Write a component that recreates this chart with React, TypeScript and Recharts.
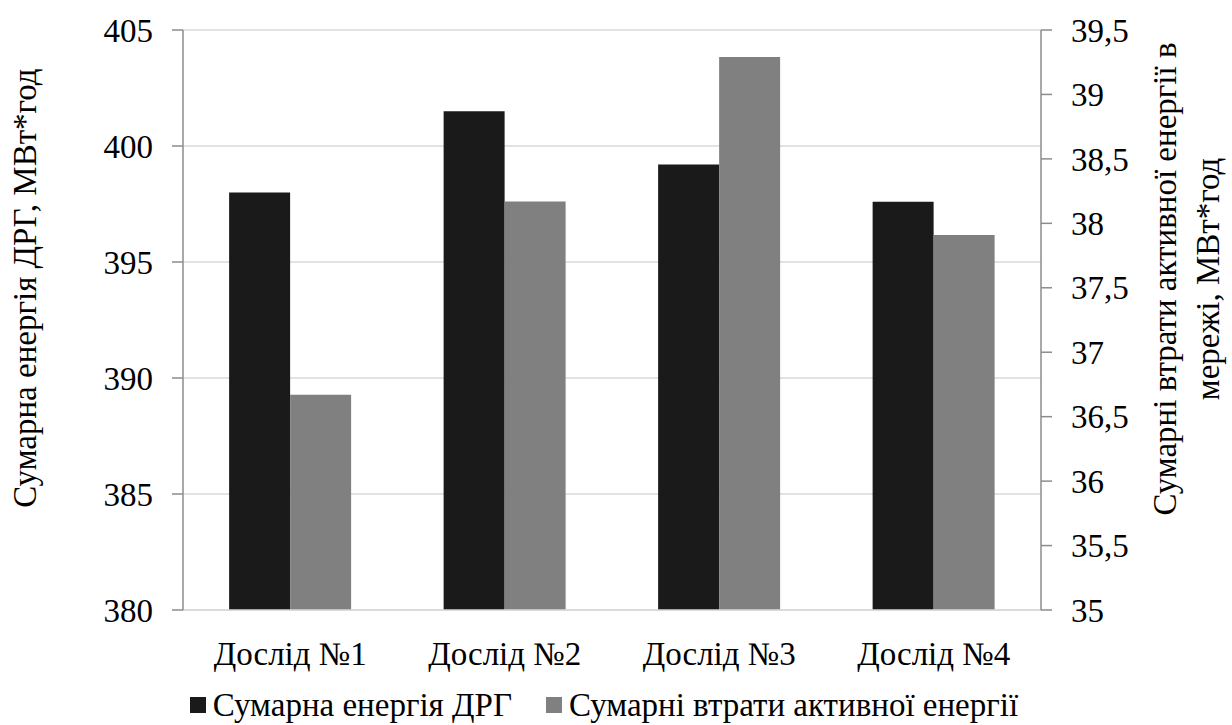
import React from 'react';
import { BarChart, Bar, XAxis, YAxis, CartesianGrid, Legend } from 'recharts';

const experiments = ['Дослід №1', 'Дослід №2', 'Дослід №3', 'Дослід №4'];
const drgEnergy = [398.0, 401.5, 399.2, 397.6];
const networkLosses = [36.67, 38.17, 39.29, 37.91];
const leftTicks = [380, 385, 390, 395, 400, 405];
const rightTicks = [35, 35.5, 36, 36.5, 37, 37.5, 38, 38.5, 39, 39.5];

const SERIES_DRG = 'Сумарна енергія ДРГ';
const SERIES_LOSS = 'Сумарні втрати активної енергії';

const FONT = 'Liberation Serif, Tinos, DejaVu Serif, serif';
const FS = 33;
const BLACK = '#1a1a1a';
const GRAY = '#808080';
const AXIS = '#8c8c8c';
const GRID = '#d9d9d9';

const data = experiments.map((name, i) => ({
    name,
    drg: drgEnergy[i],
    loss: networkLosses[i],
}));

const fmt = (v: number) => String(v).replace('.', ',');

const LeftTitle = ({ viewBox }: any) => {
    const cy = viewBox.y + viewBox.height / 2 - 32;
    return (
        <text x={36} y={cy} transform={`rotate(-90, 36, ${cy})`} textAnchor="middle"
            style={{ fontFamily: FONT }} fontSize={FS} fill="#000">
            Сумарна енергія ДРГ, МВт*год
        </text>
    );
};

const RightTitle = ({ viewBox }: any) => {
    const cy = viewBox.y + viewBox.height / 2 - 41;
    const x1 = viewBox.x + 135;
    const x2 = viewBox.x + 178;
    return (
        <g style={{ fontFamily: FONT }}>
            <text x={x1} y={cy} transform={`rotate(-90, ${x1}, ${cy})`} textAnchor="middle"
                fontSize={FS} fill="#000">
                Сумарні втрати активної енергії в
            </text>
            <text x={x2} y={cy} transform={`rotate(-90, ${x2}, ${cy})`} textAnchor="middle"
                fontSize={FS} fill="#000">
                мережі, МВт*год
            </text>
        </g>
    );
};

const LegendContent = () => (
    <div style={{
        display: 'flex', justifyContent: 'center', alignItems: 'center', height: 38,
        fontFamily: FONT, fontSize: FS, color: '#000', paddingRight: 24,
    }}>
        <span style={{ width: 16, height: 16, background: BLACK, marginRight: 7, display: 'inline-block' }} />
        <span style={{ marginRight: 34 }}>{SERIES_DRG}</span>
        <span style={{ width: 16, height: 16, background: GRAY, marginRight: 7, display: 'inline-block' }} />
        <span>{SERIES_LOSS}</span>
    </div>
);

const App: React.FC = () => {
    const tickStyle = { fontSize: FS, fill: '#000' };
    return (
        <div style={{ position: 'absolute', left: 0, top: 0, background: '#fff', fontFamily: FONT }}>
            <BarChart width={1232} height={725} data={data} style={{ fontFamily: FONT }}
                margin={{ top: 30, right: 0, bottom: 1, left: 0 }}
                barCategoryGap="21.5%" barGap={0}>
                <CartesianGrid yAxisId="left" vertical={false} stroke={GRID} strokeWidth={1.5} />
                <XAxis dataKey="name" height={76} tickLine={false}
                    axisLine={{ stroke: GRID, strokeWidth: 1.5 }}
                    tick={tickStyle} tickMargin={26} />
                <YAxis yAxisId="left" orientation="left" width={183}
                    domain={[380, 405]} ticks={leftTicks} interval={0}
                    axisLine={{ stroke: AXIS, strokeWidth: 1.5 }}
                    tickLine={{ stroke: AXIS, strokeWidth: 1.5 }} tickSize={11} tickMargin={19}
                    tick={tickStyle} label={<LeftTitle />} />
                <YAxis yAxisId="right" orientation="right" width={191}
                    domain={[35, 39.5]} ticks={rightTicks} interval={0}
                    tickFormatter={fmt}
                    axisLine={{ stroke: AXIS, strokeWidth: 1.5 }}
                    tickLine={{ stroke: AXIS, strokeWidth: 1.5 }} tickSize={11} tickMargin={19}
                    tick={{ ...tickStyle, textAnchor: 'start' }} label={<RightTitle />} />
                <Legend verticalAlign="bottom" content={<LegendContent />} />
                <Bar yAxisId="left" dataKey="drg" name={SERIES_DRG} fill={BLACK} isAnimationActive={false} />
                <Bar yAxisId="right" dataKey="loss" name={SERIES_LOSS} fill={GRAY} isAnimationActive={false} />
            </BarChart>
        </div>
    );
};

export default App;
